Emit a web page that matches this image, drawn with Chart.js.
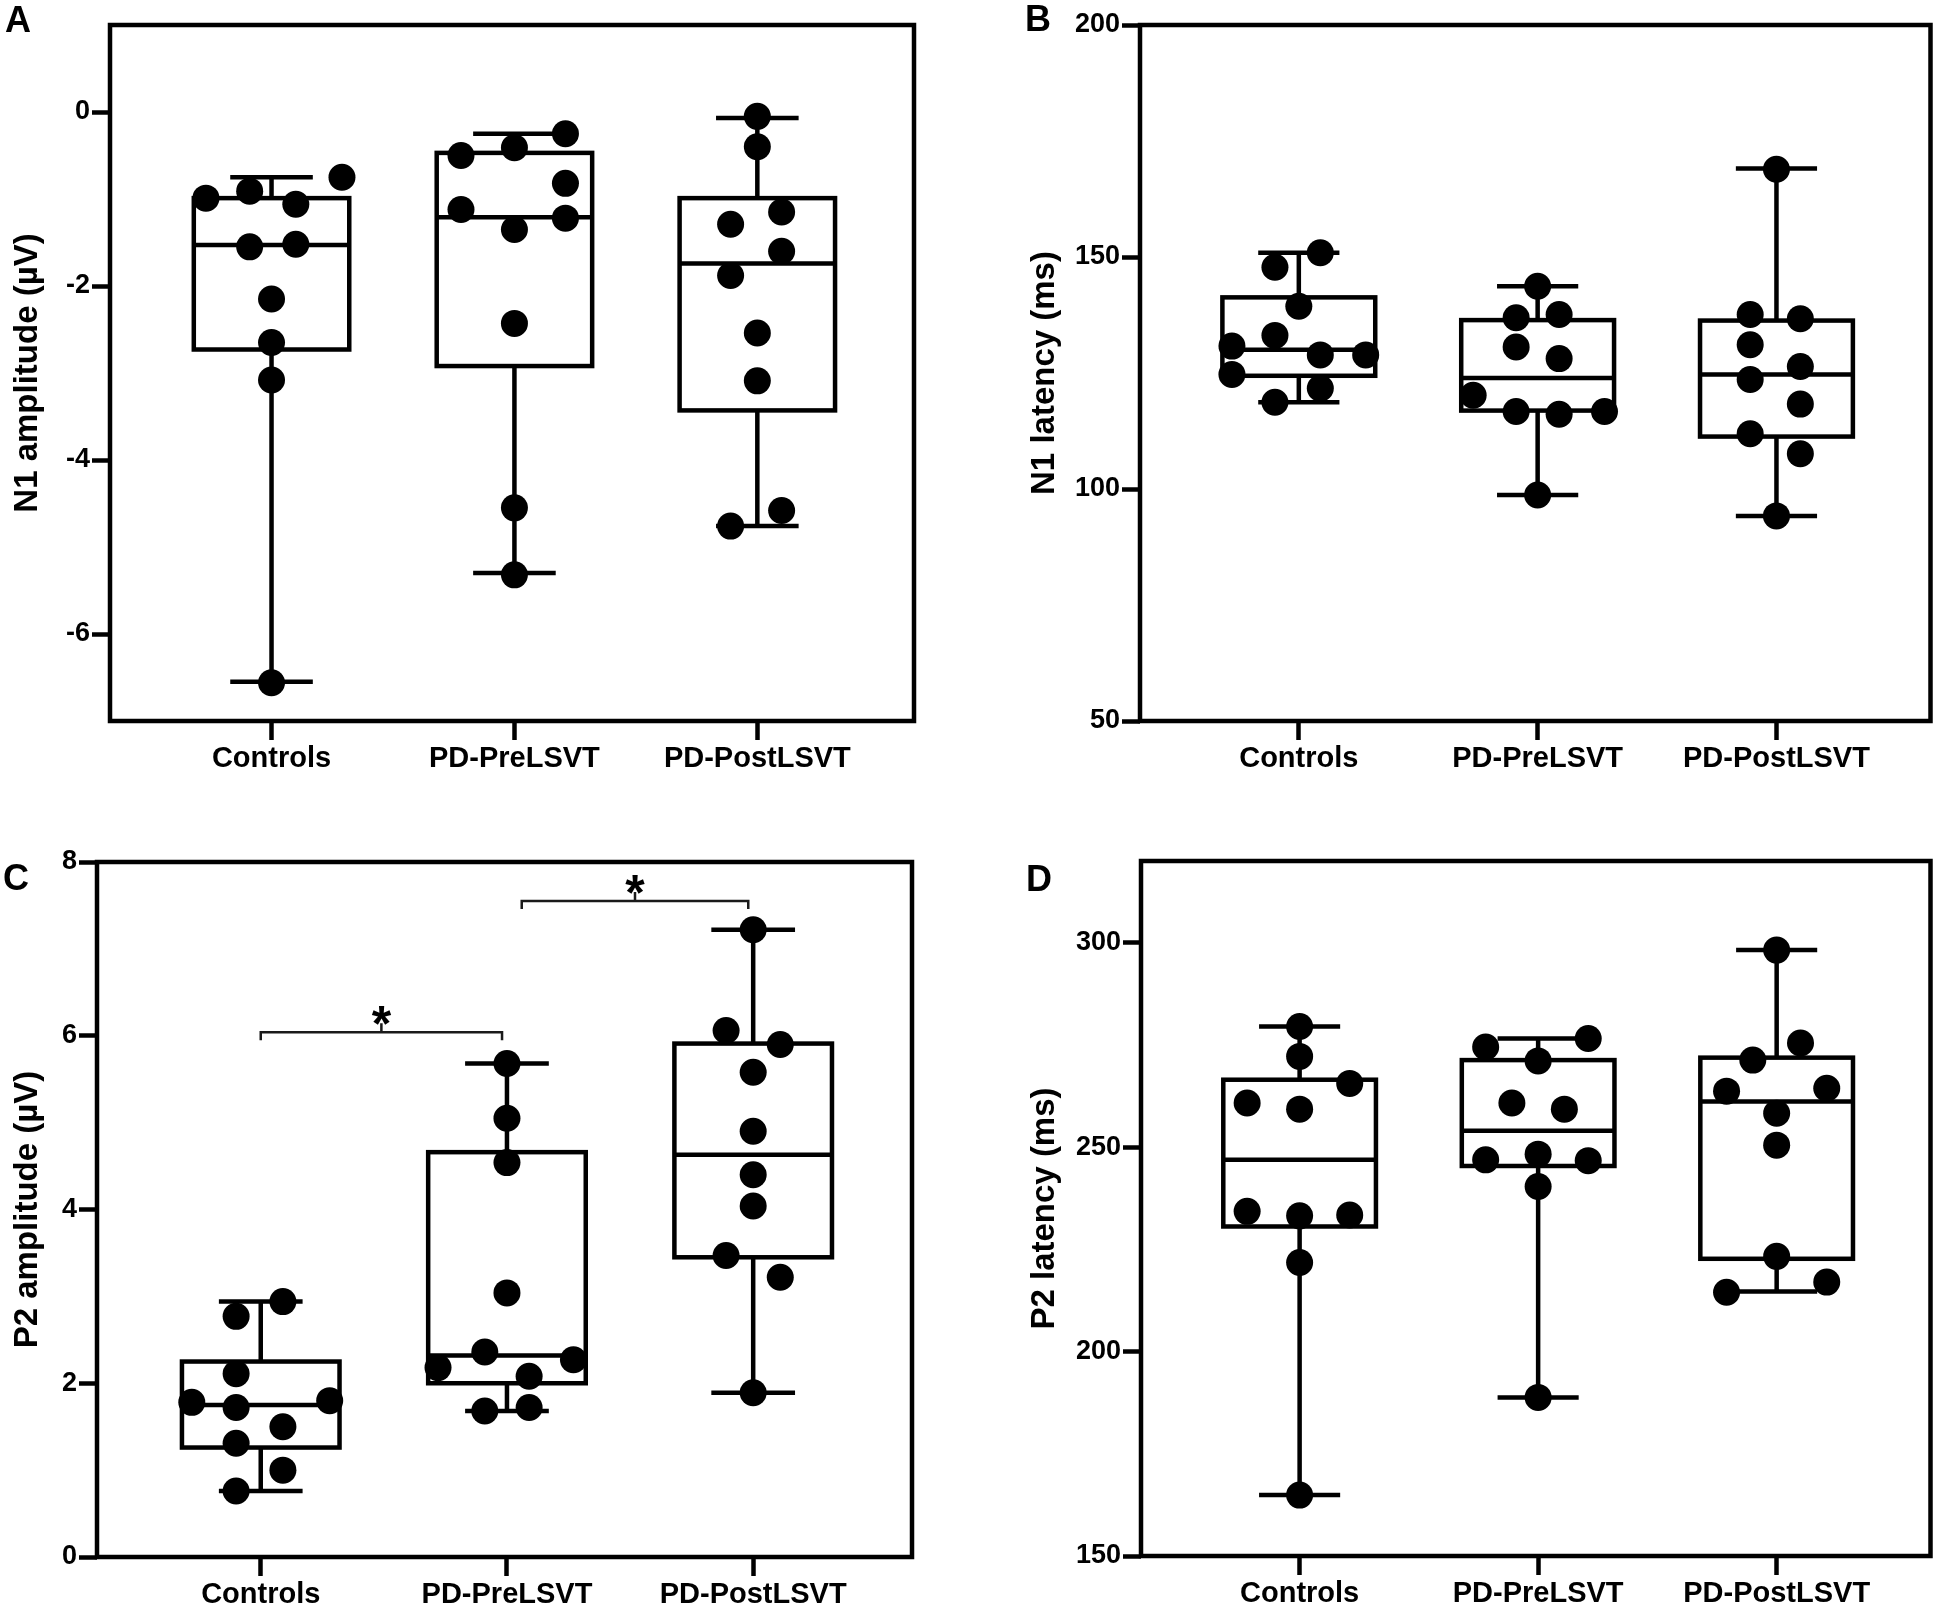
<!DOCTYPE html>
<html>
<head>
<meta charset="utf-8">
<title>N1 / P2 amplitude and latency</title>
<script src="https://cdn.jsdelivr.net/npm/chart.js@4.4.1/dist/chart.umd.min.js"></script>
<style>
  html, body { margin: 0; padding: 0; background: #fff; }
  body { width: 1944px; height: 1615px; position: relative; overflow: hidden;
         font-family: "Liberation Sans", Arial, sans-serif; }
  .panel { position: absolute; }
  .tag { position: absolute; font-weight: bold; font-size: 36px; line-height: 36px;
         transform: translate(-50%, -50%); color: #000; }
</style>
</head>
<body>
<div class="panel" style="left:0;top:0;width:972px;height:807px"><canvas id="chart-a"></canvas></div>
<div class="panel" style="left:972px;top:0;width:972px;height:807px"><canvas id="chart-b"></canvas></div>
<div class="panel" style="left:0;top:807px;width:972px;height:808px"><canvas id="chart-c"></canvas></div>
<div class="panel" style="left:972px;top:807px;width:972px;height:808px"><canvas id="chart-d"></canvas></div>
<div class="tag" style="left:18px;top:20px">A</div>
<div class="tag" style="left:1038px;top:19px">B</div>
<div class="tag" style="left:16px;top:878px">C</div>
<div class="tag" style="left:1039px;top:879px">D</div>
<script>
// Groups on the x axis
const groups = ['Controls', 'PD-PreLSVT', 'PD-PostLSVT'];

// A: N1 amplitude (µV) - one row per group
const n1AmpValues = [
    [-0.99, -0.91, -1.06, -0.75, -1.55, -1.52, -2.15, -2.65, -3.08, -6.56],
    [-0.50, -0.41, -0.25, -0.82, -1.12, -1.35, -1.22, -2.43, -4.55, -5.32],
    [-0.05, -0.40, -1.29, -1.15, -1.60, -1.88, -2.54, -3.09, -4.58, -4.76]
];
const n1AmpJitter = [
    [-0.27, -0.09, 0.10, 0.29, -0.09, 0.10, 0, 0, 0, 0],
    [-0.22, 0, 0.21, 0.21, -0.22, 0, 0.21, 0, 0, 0],
    [0, 0, -0.11, 0.10, 0.10, -0.11, 0, 0, 0.10, -0.11]
];
// min, Q1, median, Q3, max
const n1AmpStats = [
    [-6.55, -2.73, -1.53, -0.99, -0.75],
    [-5.30, -2.92, -1.21, -0.47, -0.25],
    [-4.76, -3.43, -1.74, -0.99, -0.07]
];
const n1AmpTicks = [-6, -4, -2, 0];

// B: N1 latency (ms)
const n1LatValues = [
    [150.9, 147.8, 139.4, 133.1, 130.8, 124.7, 128.9, 128.9, 121.7, 118.7],
    [143.7, 136.9, 137.6, 130.6, 128.1, 120.2, 116.7, 116.1, 116.7, 98.7],
    [168.9, 137.6, 136.7, 131.1, 126.4, 123.6, 118.3, 111.9, 107.6, 94.2]
];
const n1LatJitter = [
    [0.09, -0.10, 0, -0.10, -0.28, -0.28, 0.09, 0.28, 0.09, -0.10],
    [0, -0.09, 0.09, -0.09, 0.09, -0.27, -0.09, 0.09, 0.28, 0],
    [0, -0.11, 0.10, -0.11, 0.10, -0.11, 0.10, -0.11, 0.10, 0]
];
const n1LatStats = [
    [118.7, 124.4, 130.0, 141.3, 150.9],
    [98.7, 116.9, 123.9, 136.4, 143.7],
    [94.2, 111.3, 124.7, 136.3, 169.1]
];
const n1LatTicks = [50, 100, 150, 200];

// C: P2 amplitude (µV)
const p2AmpValues = [
    [2.94, 2.77, 2.11, 1.78, 1.72, 1.80, 1.50, 1.31, 1.00, 0.76],
    [5.68, 5.05, 4.54, 3.04, 2.36, 2.27, 2.18, 2.08, 1.68, 1.72],
    [7.22, 6.06, 5.90, 5.58, 4.90, 4.40, 4.04, 3.47, 3.22, 1.89]
];
const p2AmpJitter = [
    [0.09, -0.10, -0.10, -0.28, -0.10, 0.28, 0.09, -0.10, 0.09, -0.10],
    [0, 0, 0, 0, -0.09, 0.27, -0.28, 0.09, -0.09, 0.09],
    [0, -0.11, 0.11, 0, 0, 0, 0, -0.11, 0.11, 0]
];
const p2AmpStats = [
    [0.76, 1.26, 1.75, 2.25, 2.94],
    [1.68, 2.00, 2.32, 4.66, 5.68],
    [1.89, 3.45, 4.63, 5.91, 7.22]
];
const p2AmpTicks = [0, 2, 4, 6, 8];
// significance brackets (from group, to group, height)
const sigFrom = [1, 2.06];
const sigTo = [1.98, 2.98];
const sigLevel = [6.04, 7.55];
const sigMark = ['*', '*'];

// D: P2 latency (ms)
const p2LatValues = [
    [279.5, 272.2, 265.6, 260.8, 259.3, 234.3, 233.2, 233.4, 221.8, 164.9],
    [276.6, 274.5, 271.1, 260.8, 259.3, 246.9, 248.3, 246.7, 240.4, 188.8],
    [298.2, 275.5, 271.3, 263.7, 264.4, 258.3, 250.5, 223.3, 214.5, 217.0]
];
const p2LatJitter = [
    [0, 0, 0.21, -0.22, 0, -0.22, 0, 0.21, 0, 0],
    [0.21, -0.22, 0, -0.11, 0.11, -0.22, 0, 0.21, 0, 0],
    [0, 0.10, -0.10, -0.21, 0.21, 0, 0, 0, -0.21, 0.21]
];
const p2LatStats = [
    [164.9, 230.6, 246.9, 266.5, 279.5],
    [188.8, 245.4, 254.0, 271.3, 276.6],
    [214.7, 222.7, 261.2, 271.9, 298.2]
];
const p2LatTicks = [150, 200, 250, 300];

const FONT = '"Liberation Sans", Arial, sans-serif';
const LINE = 4.5;

// Draws boxes, whiskers, the frame and optional brackets with the chart's scales
function boxPlugin(stats, brackets) {
    return {
        id: 'boxWhisker',
        beforeDatasetsDraw(chart) {
            const { ctx, chartArea: a, scales: { x, y } } = chart;
            ctx.save();
            ctx.strokeStyle = '#000';
            ctx.lineWidth = LINE;
            ctx.lineCap = 'butt';
            stats.forEach((s, i) => {
                const c = i + 1;
                const xc = x.getPixelForValue(c);
                const xl = x.getPixelForValue(c - 0.32), xr = x.getPixelForValue(c + 0.32);
                const cl = x.getPixelForValue(c - 0.17), cr = x.getPixelForValue(c + 0.17);
                const [mn, q1, md, q3, mx] = s.map(v => y.getPixelForValue(v));
                ctx.beginPath();
                ctx.moveTo(xc, q1); ctx.lineTo(xc, mn);
                ctx.moveTo(cl, mn); ctx.lineTo(cr, mn);
                ctx.moveTo(xc, q3); ctx.lineTo(xc, mx);
                ctx.moveTo(cl, mx); ctx.lineTo(cr, mx);
                ctx.moveTo(xl, md); ctx.lineTo(xr, md);
                ctx.stroke();
                ctx.strokeRect(xl, q3, xr - xl, q1 - q3);
            });
            ctx.strokeRect(a.left, a.top, a.right - a.left, a.bottom - a.top);
            ctx.restore();
        },
        afterDatasetsDraw(chart) {
            if (!brackets) return;
            const { ctx, scales: { x, y } } = chart;
            ctx.save();
            ctx.strokeStyle = '#1a1a1a';
            ctx.lineWidth = 2.5;
            ctx.fillStyle = '#000';
            ctx.font = 'bold 50px ' + FONT;
            ctx.textAlign = 'center';
            ctx.textBaseline = 'alphabetic';
            brackets.from.forEach((f, i) => {
                const x1 = x.getPixelForValue(f), x2 = x.getPixelForValue(brackets.to[i]);
                const xm = (x1 + x2) / 2;
                const yy = y.getPixelForValue(brackets.level[i]);
                ctx.beginPath();
                ctx.moveTo(x1, yy + 8); ctx.lineTo(x1, yy); ctx.lineTo(x2, yy); ctx.lineTo(x2, yy + 8);
                ctx.moveTo(xm, yy); ctx.lineTo(xm, yy - 9);
                ctx.stroke();
                ctx.fillText(brackets.mark[i], xm, yy - 20 + 0.58 * 50);
            });
            ctx.restore();
        }
    };
}

function makePanel(id, cfg) {
    const points = [];
    cfg.values.forEach((row, g) => {
        row.forEach((v, k) => points.push({ x: g + 1 + cfg.jitter[g][k], y: v }));
    });
    const W = cfg.w, H = cfg.h, area = cfg.area;
    new Chart(document.getElementById(id), {
        type: 'scatter',
        data: {
            datasets: [{
                data: points,
                backgroundColor: '#000',
                borderWidth: 0,
                pointRadius: 13.5,
                pointHoverRadius: 13.5
            }]
        },
        options: {
            responsive: true,
            maintainAspectRatio: false,
            devicePixelRatio: 1,
            animation: false,
            events: [],
            layout: { padding: { top: area.top, right: W - area.right, bottom: 0, left: 0 } },
            plugins: { legend: { display: false }, tooltip: { enabled: false } },
            scales: {
                x: {
                    type: 'linear',
                    min: 0.335,
                    max: 3.645,
                    afterBuildTicks: s => { s.ticks = groups.map((g, i) => ({ value: i + 1 })); },
                    afterFit: s => { s.height = H - area.bottom; },
                    ticks: {
                        callback: v => groups[v - 1],
                        color: '#000',
                        font: { family: FONT, size: 29, weight: 'bold' },
                        padding: 2,
                        maxRotation: 0
                    },
                    grid: { display: true, drawOnChartArea: false, drawTicks: true,
                            tickLength: 19, tickWidth: LINE, tickColor: '#000' },
                    border: { display: false }
                },
                y: {
                    type: 'linear',
                    min: cfg.yMin,
                    max: cfg.yMax,
                    afterBuildTicks: s => { s.ticks = cfg.yTicks.map(v => ({ value: v })); },
                    afterFit: s => { s.width = area.left; },
                    ticks: {
                        color: '#000',
                        font: { family: FONT, size: 27, weight: 'bold' },
                        padding: 2
                    },
                    grid: { display: true, drawOnChartArea: false, drawTicks: true,
                            tickLength: 18, tickWidth: LINE, tickColor: '#000' },
                    border: { display: false },
                    title: {
                        display: true,
                        text: cfg.title,
                        color: '#000',
                        font: { family: FONT, size: 33, weight: 'bold', lineHeight: 1.2 },
                        padding: { top: cfg.titleX - 19.8, bottom: 0 }
                    }
                }
            }
        },
        plugins: [boxPlugin(cfg.stats, cfg.brackets)]
    });
}

document.addEventListener('DOMContentLoaded', function () {
    makePanel('chart-a', {
        values: n1AmpValues, jitter: n1AmpJitter, stats: n1AmpStats,
        yMin: -7, yMax: 1, yTicks: n1AmpTicks, title: 'N1 amplitude (\u00b5V)',
        w: 972, h: 807, area: { left: 110, top: 25, right: 914, bottom: 721 }, titleX: 28
    });
    makePanel('chart-b', {
        values: n1LatValues, jitter: n1LatJitter, stats: n1LatStats,
        yMin: 50, yMax: 200, yTicks: n1LatTicks, title: 'N1 latency (ms)',
        w: 972, h: 807, area: { left: 168, top: 25, right: 961, bottom: 721 }, titleX: 73
    });
    makePanel('chart-c', {
        values: p2AmpValues, jitter: p2AmpJitter, stats: p2AmpStats,
        yMin: 0, yMax: 8, yTicks: p2AmpTicks, title: 'P2 amplitude (\u00b5V)',
        w: 972, h: 808, area: { left: 97, top: 55, right: 912, bottom: 750 }, titleX: 28,
        brackets: { from: sigFrom, to: sigTo, level: sigLevel, mark: sigMark }
    });
    makePanel('chart-d', {
        values: p2LatValues, jitter: p2LatJitter, stats: p2LatStats,
        yMin: 150, yMax: 320, yTicks: p2LatTicks, title: 'P2 latency (ms)',
        w: 972, h: 808, area: { left: 169, top: 54, right: 961, bottom: 749 }, titleX: 73
    });
});
</script>
</body>
</html>
